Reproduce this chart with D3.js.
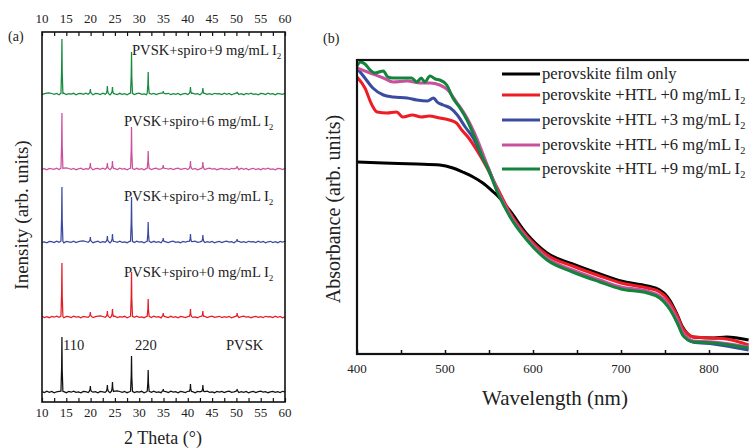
<!DOCTYPE html>
<html>
<head>
<meta charset="utf-8">
<script src="https://cdn.jsdelivr.net/npm/d3@7"></script>
<style>
  body { margin: 0; background: #fff; }
  svg text { font-family: "Liberation Serif", "Times New Roman", serif; fill: #222; }
</style>
</head>
<body>
<div id="chart"></div>
<script>
// ---------- panel (a) XRD data ----------
var xrdLabels = ["PVSK", "PVSK+spiro+0 mg/mL I", "PVSK+spiro+3 mg/mL I", "PVSK+spiro+6 mg/mL I", "PVSK+spiro+9 mg/mL I"];
var xrdColors = ["#111111", "#e41e26", "#3b4aa0", "#cc4f9f", "#168a3e"];
var xrdOffsets = [10, 85, 160, 233, 308];
var xrdPeakPos = [14.1, 19.95, 23.45, 24.5, 28.42, 31.85, 34.95, 40.55, 43.1, 50.15];
var hPVSK = [55, 6, 7, 10, 36, 22, 3, 8, 7, 3];
var hSpiro0 = [54, 5, 6, 8, 45, 18, 4, 8, 6, 4];
var hSpiro3 = [55, 5, 6, 8, 45, 20, 4, 8, 7, 3];
var hSpiro6 = [56, 6, 6, 8, 42, 18, 4, 8, 7, 3];
var hSpiro9 = [55, 5, 8, 7, 42, 22, 3, 7, 6, 2];
var xrdHeights = [hPVSK, hSpiro0, hSpiro3, hSpiro6, hSpiro9];
// background wobble read every 0.5 deg from 10 to 60
var xrdNoise = [0.4,-0.6,0.8,-0.3,0.5,-0.9,0.2,0.7,-0.5,0.3,
                -0.7,0.6,-0.2,0.9,-0.4,0.1,-0.8,0.5,0.3,-0.6,
                0.8,-0.2,0.4,-0.9,0.6,0.2,-0.4,0.7,-0.6,0.3,
                0.9,1.2,0.5,-0.3,0.6,-0.7,0.2,0.8,-0.5,0.4,
                -0.2,0.7,-0.8,0.3,0.5,-0.4,0.9,-0.3,0.2,-0.7,
                0.6,0.4,-0.5,0.8,-0.2,0.3,-0.9,0.5,0.1,-0.6,
                0.7,-0.3,0.4,-0.8,0.6,0.2,-0.5,0.3,0.8,-0.4,
                0.2,-0.7,0.5,-0.1,0.6,-0.6,0.3,0.9,-0.4,0.2,
                0.7,-0.5,0.4,-0.3,0.6,-0.8,0.1,0.5,-0.6,0.3,
                0.8,-0.2,0.4,-0.7,0.2,0.6,-0.4,0.3,-0.5,0.7,0.1];
var xrdTicks = [10, 15, 20, 25, 30, 35, 40, 45, 50, 55, 60];

// ---------- panel (b) absorbance data [nm, A] ----------
var absLabels = ["perovskite film only", "perovskite +HTL +0 mg/mL I", "perovskite +HTL +3 mg/mL I",
                 "perovskite +HTL +6 mg/mL I", "perovskite +HTL +9 mg/mL I"];
var absColors = ["#000000", "#ee1c24", "#3b4ca0", "#c9509d", "#12843c"];
var absFilm = [[400,1.92],[430,1.91],[468,1.90],[494,1.89],[509,1.86],[520,1.82],[532,1.77],[543,1.71],
  [555,1.62],[560,1.58],[574,1.43],[593,1.20],[616,1.01],[645,0.90],[676,0.80],[700,0.73],[730,0.68],
  [744,0.64],[750,0.60],[756,0.53],[764,0.39],[770,0.27],[776,0.20],[782,0.17],[805,0.16],[820,0.17],[845,0.14]];
var absHTL0 = [[400,2.77],[409,2.66],[417,2.49],[423,2.42],[434,2.41],[445,2.42],[452,2.37],[463,2.39],
  [473,2.37],[482,2.38],[494,2.36],[505,2.34],[513,2.31],[519,2.24],[527,2.16],[536,2.04],[546,1.89],
  [560,1.65],[574,1.41],[593,1.18],[616,0.99],[645,0.88],[676,0.78],[700,0.71],[730,0.66],[744,0.62],
  [750,0.58],[756,0.51],[764,0.38],[770,0.26],[776,0.20],[782,0.17],[805,0.16],[820,0.15],[845,0.09]];
var absHTL3 = [[400,2.86],[409,2.76],[418,2.66],[430,2.59],[441,2.57],[457,2.56],[468,2.54],[480,2.53],
  [487,2.56],[491,2.52],[498,2.49],[506,2.46],[514,2.39],[523,2.27],[532,2.16],[543,1.96],[548,1.88],
  [560,1.62],[574,1.38],[593,1.15],[616,0.95],[645,0.83],[676,0.73],[700,0.66],[730,0.62],[744,0.57],
  [750,0.52],[756,0.45],[764,0.32],[770,0.20],[776,0.15],[782,0.12],[805,0.10],[845,0.04]];
var absHTL6 = [[400,2.86],[415,2.81],[430,2.76],[441,2.72],[457,2.73],[472,2.71],[483,2.71],[494,2.69],
  [503,2.64],[513,2.52],[525,2.36],[536,2.16],[548,1.89],[560,1.63],[574,1.39],[593,1.16],[616,0.96],
  [645,0.84],[676,0.74],[700,0.67],[730,0.63],[744,0.58],[750,0.54],[756,0.47],[764,0.34],[770,0.22],
  [776,0.16],[782,0.13],[805,0.12],[845,0.07]];
var absHTL9 = [[400,2.88],[404,2.92],[409,2.90],[415,2.84],[420,2.81],[430,2.83],[435,2.77],[441,2.76],
  [452,2.76],[462,2.76],[468,2.72],[473,2.76],[477,2.72],[483,2.78],[489,2.75],[494,2.74],[502,2.69],
  [509,2.56],[517,2.46],[525,2.34],[534,2.16],[543,1.96],[548,1.87],[560,1.61],[574,1.37],[593,1.14],
  [616,0.94],[645,0.82],[676,0.72],[700,0.65],[730,0.61],[744,0.56],[750,0.51],[756,0.44],[764,0.31],
  [770,0.19],[776,0.14],[782,0.12],[805,0.11],[845,0.06]];
var absSeries = [absFilm, absHTL0, absHTL3, absHTL6, absHTL9];
var absTicks = [400, 500, 600, 700, 800];

var svg = d3.select("#chart").append("svg")
    .attr("width", 749).attr("height", 448)
    .attr("font-family", "Liberation Serif, serif")
    .style("background", "#fff");

function addSub(sel, main, sub) {
    sel.text(main);
    sel.append("tspan").attr("font-size", "0.62em").attr("dy", 4).text(sub);
}

/* ===== Panel (a) ===== */
var ax = d3.scaleLinear().domain([10, 60]).range([42, 285]);
var ay = d3.scaleLinear().domain([0, 370]).range([402, 32]);

var xrdLine = d3.line().x(d => ax(d[0])).y(d => ay(d[1]));

xrdHeights.forEach(function(h, s) {
    var b = xrdOffsets[s];
    var pts = [];
    xrdNoise.forEach(function(n, i) {
        var x = 10 + i * 0.5;
        // skip background samples that sit inside a peak
        if (xrdPeakPos.some(p => Math.abs(x - p) < 0.25)) return;
        pts.push([x, b + xrdNoise[(i + s * 7) % xrdNoise.length]]);
    });
    xrdPeakPos.forEach(function(p, k) {
        pts.push([p - 0.2, b + 0.8]);
        pts.push([p - 0.06, b + h[k] * 0.45]);
        pts.push([p, b + h[k]]);
        pts.push([p + 0.06, b + h[k] * 0.4]);
        pts.push([p + 0.2, b + 0.6]);
    });
    pts.sort((a, c) => a[0] - c[0]);
    svg.append("path")
        .attr("d", xrdLine(pts))
        .attr("fill", "none")
        .attr("stroke", xrdColors[s])
        .attr("stroke-width", 1.25);
});

// axes, ticks inward
var aBottom = d3.axisBottom(ax).tickValues(d3.range(10, 60.1, 2.5)).tickSize(-4).tickFormat("");
var aTop = d3.axisTop(ax).tickValues(d3.range(10, 60.1, 2.5)).tickSize(-4).tickFormat("");
svg.append("g").attr("transform", "translate(0,402)").call(aBottom);
svg.append("g").attr("transform", "translate(0,32)").call(aTop);
svg.selectAll(".domain").remove();
svg.selectAll(".tick line").attr("stroke", "#111").attr("stroke-width", 1.2);
svg.append("rect").attr("x", 42).attr("y", 32).attr("width", 243).attr("height", 370)
    .attr("fill", "none").attr("stroke", "#111").attr("stroke-width", 1.6);

svg.selectAll(".xtop").data(xrdTicks).enter().append("text")
    .attr("x", d => ax(d)).attr("y", 23).attr("text-anchor", "middle")
    .attr("font-size", 13).text(d => d);
svg.selectAll(".xbot").data(xrdTicks).enter().append("text")
    .attr("x", d => ax(d)).attr("y", 417).attr("text-anchor", "middle")
    .attr("font-size", 13).text(d => d);

svg.append("text").attr("x", 163).attr("y", 444).attr("text-anchor", "middle")
    .attr("font-size", 18).text("2 Theta (°)");
svg.append("text").attr("transform", "translate(28,215) rotate(-90)")
    .attr("text-anchor", "middle").attr("font-size", 19).text("Inensity (arb. units)");
svg.append("text").attr("x", 8).attr("y", 41).attr("font-size", 14).text("(a)");

var xrdLabelPos = [[226, 350], [124, 277], [124, 201], [124, 126], [132, 55]];
xrdLabels.forEach(function(t, s) {
    var el = svg.append("text").attr("x", xrdLabelPos[s][0]).attr("y", xrdLabelPos[s][1]).attr("font-size", 14.6);
    if (s === 0) el.text(t); else addSub(el, t, "2");
});
svg.append("text").attr("x", 63).attr("y", 350).attr("font-size", 14.6).text("110");
svg.append("text").attr("x", 135).attr("y", 350).attr("font-size", 14.6).text("220");

/* ===== Panel (b) ===== */
var bx = d3.scaleLinear().domain([400, 850]).range([357, 753]);
var by = d3.scaleLinear().domain([0, 2.94]).range([354, 60]);

var absLine = d3.line().x(d => bx(d[0])).y(d => by(d[1])).curve(d3.curveMonotoneX);

absSeries.forEach(function(s, i) {
    svg.append("path")
        .attr("d", absLine(s))
        .attr("fill", "none")
        .attr("stroke", absColors[i])
        .attr("stroke-width", 3)
        .attr("stroke-linejoin", "round");
});

var bBottom = d3.axisBottom(bx).tickValues(d3.range(400, 850, 50)).tickSize(-4).tickFormat("");
var gb = svg.append("g").attr("transform", "translate(0,354)").call(bBottom);
gb.select(".domain").remove();
gb.selectAll(".tick line").attr("stroke", "#111").attr("stroke-width", 1.5);
svg.append("rect").attr("x", 357).attr("y", 60).attr("width", 396).attr("height", 294)
    .attr("fill", "none").attr("stroke", "#111").attr("stroke-width", 2.2);

svg.selectAll(".btick").data(absTicks).enter().append("text")
    .attr("x", d => bx(d)).attr("y", 373).attr("text-anchor", "middle")
    .attr("font-size", 13).text(d => d);
svg.append("text").attr("x", 555).attr("y", 405).attr("text-anchor", "middle")
    .attr("font-size", 21).text("Wavelength (nm)");
svg.append("text").attr("transform", "translate(340,209) rotate(-90)")
    .attr("text-anchor", "middle").attr("font-size", 20).text("Absorbance (arb. units)");
svg.append("text").attr("x", 323).attr("y", 43).attr("font-size", 14).text("(b)");

var legY = [74, 95, 120, 145, 169];
absLabels.forEach(function(t, i) {
    svg.append("line").attr("x1", 502).attr("x2", 540).attr("y1", legY[i]).attr("y2", legY[i])
        .attr("stroke", absColors[i]).attr("stroke-width", 3);
    var el = svg.append("text").attr("x", 542).attr("y", legY[i] + 5).attr("font-size", 16.6);
    if (i === 0) el.text(t); else addSub(el, t, "2");
});
</script>
</body>
</html>
